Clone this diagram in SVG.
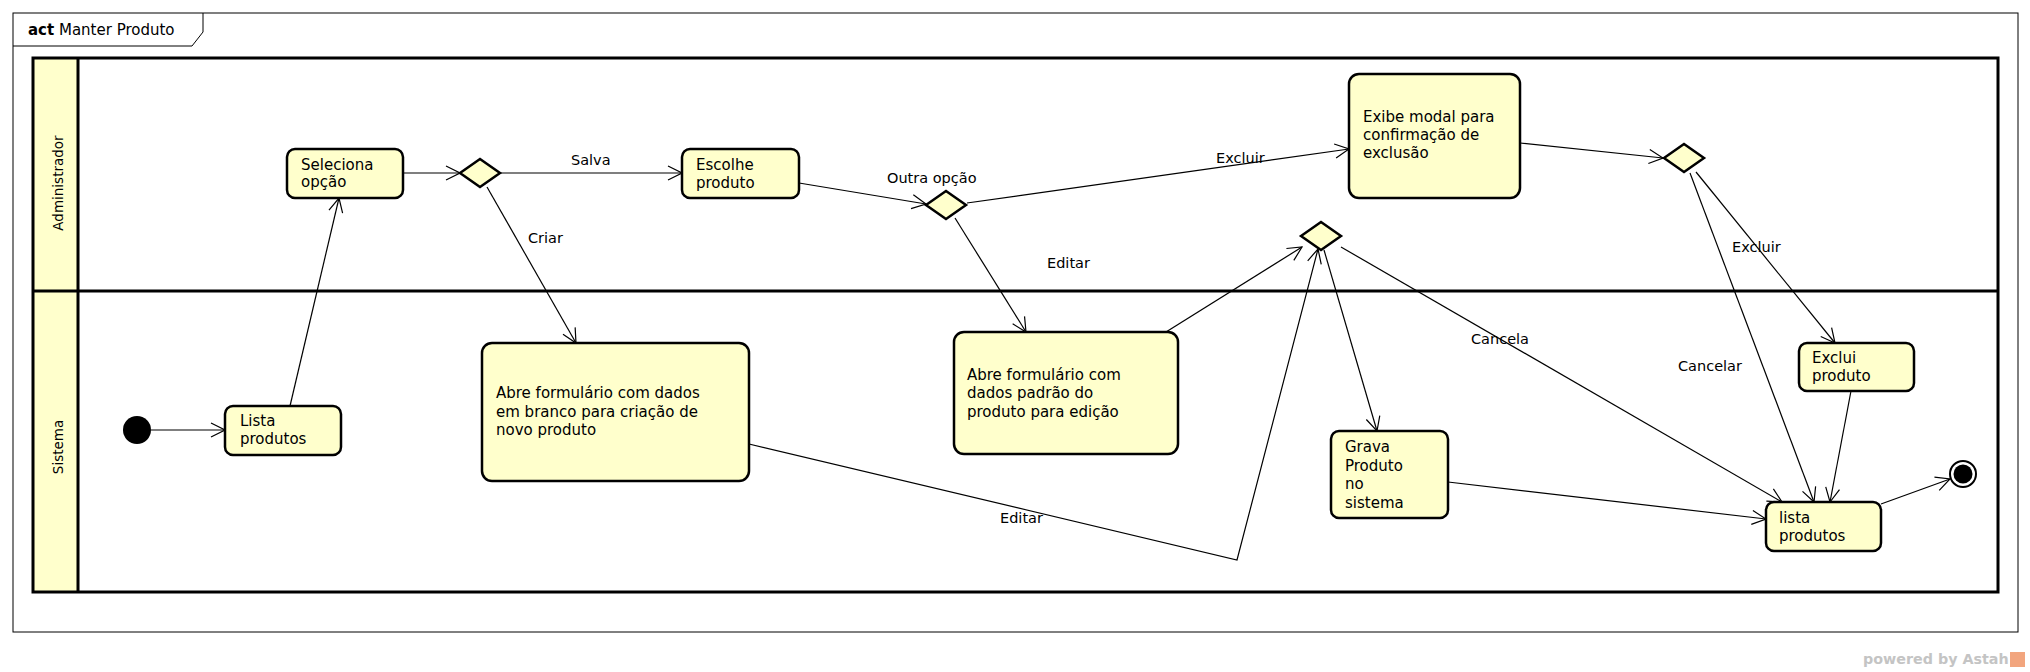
<svg xmlns="http://www.w3.org/2000/svg" width="2030" height="672" viewBox="0 0 2030 672">
<style>
text{font-family:"DejaVu Sans","Liberation Sans",sans-serif;fill:#000}
.t{font-size:15px}
.lbl{font-size:14.5px}
.lane{font-size:13.5px}
.box{fill:#FFFFCC;stroke:#000;stroke-width:2.5}
.dia{fill:#FFFFCC;stroke:#000;stroke-width:2.5;stroke-linejoin:miter}
.c{fill:none;stroke:#000;stroke-width:1.2}
</style>
<defs>
<marker id="arr" markerUnits="userSpaceOnUse" viewBox="0 0 16 16" refX="15" refY="8" markerWidth="16" markerHeight="16" orient="auto">
<path d="M1,1 L15,8 L1,15" fill="none" stroke="#000" stroke-width="1.2"/>
</marker>
</defs>
<rect width="2030" height="672" fill="#fff"/>
<g id="frame">
<rect x="13" y="13" width="2005" height="619" fill="none" stroke="#000" stroke-width="1"/>
<path d="M13,46 L192,46 L203,32 L203,13" fill="none" stroke="#000" stroke-width="1"/>
<text x="28" y="35" style="font-size:15px"><tspan font-weight="bold">act</tspan> Manter Produto</text>
</g>
<g id="lanes">
<rect x="33" y="58" width="45" height="534" fill="#FFFFCC"/>
<rect x="33" y="58" width="1965" height="534" fill="none" stroke="#000" stroke-width="3"/>
<line x1="78" y1="58" x2="78" y2="592" stroke="#000" stroke-width="3"/>
<line x1="33" y1="291" x2="1998" y2="291" stroke="#000" stroke-width="3"/>
<text class="lane" transform="translate(63,183) rotate(-90)" text-anchor="middle">Administrador</text>
<text class="lane" transform="translate(63,447) rotate(-90)" text-anchor="middle">Sistema</text>
</g>
<g id="connectors">
<line class="c" x1="151" y1="430" x2="225" y2="430" marker-end="url(#arr)"/>
<line class="c" x1="290" y1="406" x2="339" y2="198" marker-end="url(#arr)"/>
<line class="c" x1="403" y1="173" x2="460" y2="173" marker-end="url(#arr)"/>
<line class="c" x1="500" y1="173" x2="682" y2="173" marker-end="url(#arr)"/>
<line class="c" x1="487" y1="187" x2="576" y2="343" marker-end="url(#arr)"/>
<line class="c" x1="799" y1="183" x2="926" y2="204" marker-end="url(#arr)"/>
<line class="c" x1="967" y1="203" x2="1349" y2="149" marker-end="url(#arr)"/>
<line class="c" x1="955" y1="218" x2="1026" y2="332" marker-end="url(#arr)"/>
<line class="c" x1="1166" y1="332" x2="1302" y2="247" marker-end="url(#arr)"/>
<polyline class="c" points="749,444 1237,560 1318,249" marker-end="url(#arr)"/>
<line class="c" x1="1324" y1="250" x2="1377" y2="431" marker-end="url(#arr)"/>
<line class="c" x1="1341" y1="247" x2="1782" y2="502" marker-end="url(#arr)"/>
<line class="c" x1="1520" y1="143" x2="1663" y2="158" marker-end="url(#arr)"/>
<line class="c" x1="1690" y1="173" x2="1814" y2="502" marker-end="url(#arr)"/>
<line class="c" x1="1696" y1="172" x2="1835" y2="343" marker-end="url(#arr)"/>
<line class="c" x1="1851" y1="391" x2="1830" y2="502" marker-end="url(#arr)"/>
<line class="c" x1="1448" y1="482" x2="1766" y2="519" marker-end="url(#arr)"/>
<line class="c" x1="1881" y1="504" x2="1950" y2="479" marker-end="url(#arr)"/>
<text class="lbl" x="571" y="165">Salva</text>
<text class="lbl" x="528" y="243">Criar</text>
<text class="lbl" x="887" y="183">Outra opção</text>
<text class="lbl" x="1216" y="163">Excluir</text>
<text class="lbl" x="1047" y="268">Editar</text>
<text class="lbl" x="1000" y="523">Editar</text>
<text class="lbl" x="1471" y="344">Cancela</text>
<text class="lbl" x="1678" y="371">Cancelar</text>
<text class="lbl" x="1732" y="252">Excluir</text>
</g>
<g id="initial"><circle cx="137" cy="430" r="14" fill="#000"/></g>
<g id="lista1">
<rect class="box" x="225" y="406" width="116" height="49" rx="8"/>
<text class="t" x="240" y="426">Lista</text><text class="t" x="240" y="444">produtos</text>
</g>
<g id="seleciona">
<rect class="box" x="287" y="149" width="116" height="49" rx="8"/>
<text class="t" x="301" y="170">Seleciona</text><text class="t" x="301" y="187">opção</text>
</g>
<g id="d1"><polygon class="dia" points="460,173 480,159 500,173 480,187"/></g>
<g id="escolhe">
<rect class="box" x="682" y="149" width="117" height="49" rx="8"/>
<text class="t" x="696" y="170">Escolhe</text><text class="t" x="696" y="188">produto</text>
</g>
<g id="d2"><polygon class="dia" points="926,205 946,191 966,205 946,219"/></g>
<g id="exibe">
<rect class="box" x="1349" y="74" width="171" height="124" rx="10"/>
<text class="t" x="1363" y="122">Exibe modal para</text>
<text class="t" x="1363" y="140">confirmação de</text>
<text class="t" x="1363" y="158">exclusão</text>
</g>
<g id="d4"><polygon class="dia" points="1664,158 1684,144 1704,158 1684,172"/></g>
<g id="abre1">
<rect class="box" x="482" y="343" width="267" height="138" rx="10"/>
<text class="t" x="496" y="398">Abre formulário com dados</text>
<text class="t" x="496" y="417">em branco para criação de</text>
<text class="t" x="496" y="435">novo produto</text>
</g>
<g id="abre2">
<rect class="box" x="954" y="332" width="224" height="122" rx="10"/>
<text class="t" x="967" y="380">Abre formulário com</text>
<text class="t" x="967" y="398">dados padrão do</text>
<text class="t" x="967" y="417">produto para edição</text>
</g>
<g id="d3"><polygon class="dia" points="1301,236 1321,222 1341,236 1321,250"/></g>
<g id="grava">
<rect class="box" x="1331" y="431" width="117" height="87" rx="8"/>
<text class="t" x="1345" y="452">Grava</text>
<text class="t" x="1345" y="471">Produto</text>
<text class="t" x="1345" y="489">no</text>
<text class="t" x="1345" y="508">sistema</text>
</g>
<g id="exclui">
<rect class="box" x="1799" y="343" width="115" height="48" rx="8"/>
<text class="t" x="1812" y="363">Exclui</text><text class="t" x="1812" y="381">produto</text>
</g>
<g id="lista2">
<rect class="box" x="1766" y="502" width="115" height="49" rx="8"/>
<text class="t" x="1779" y="523">lista</text><text class="t" x="1779" y="541">produtos</text>
</g>
<g id="final">
<circle cx="1963" cy="474" r="13" fill="#fff" stroke="#000" stroke-width="2"/>
<circle cx="1963" cy="474" r="9.5" fill="#000"/>
</g>
<g id="credit">
<text x="1863" y="664" style="font-size:14.3px;font-weight:bold;fill:#c4c4c4">powered by Astah</text>
<rect x="2010" y="652" width="15" height="15" fill="#F2A57E"/>
</g>
</svg>
